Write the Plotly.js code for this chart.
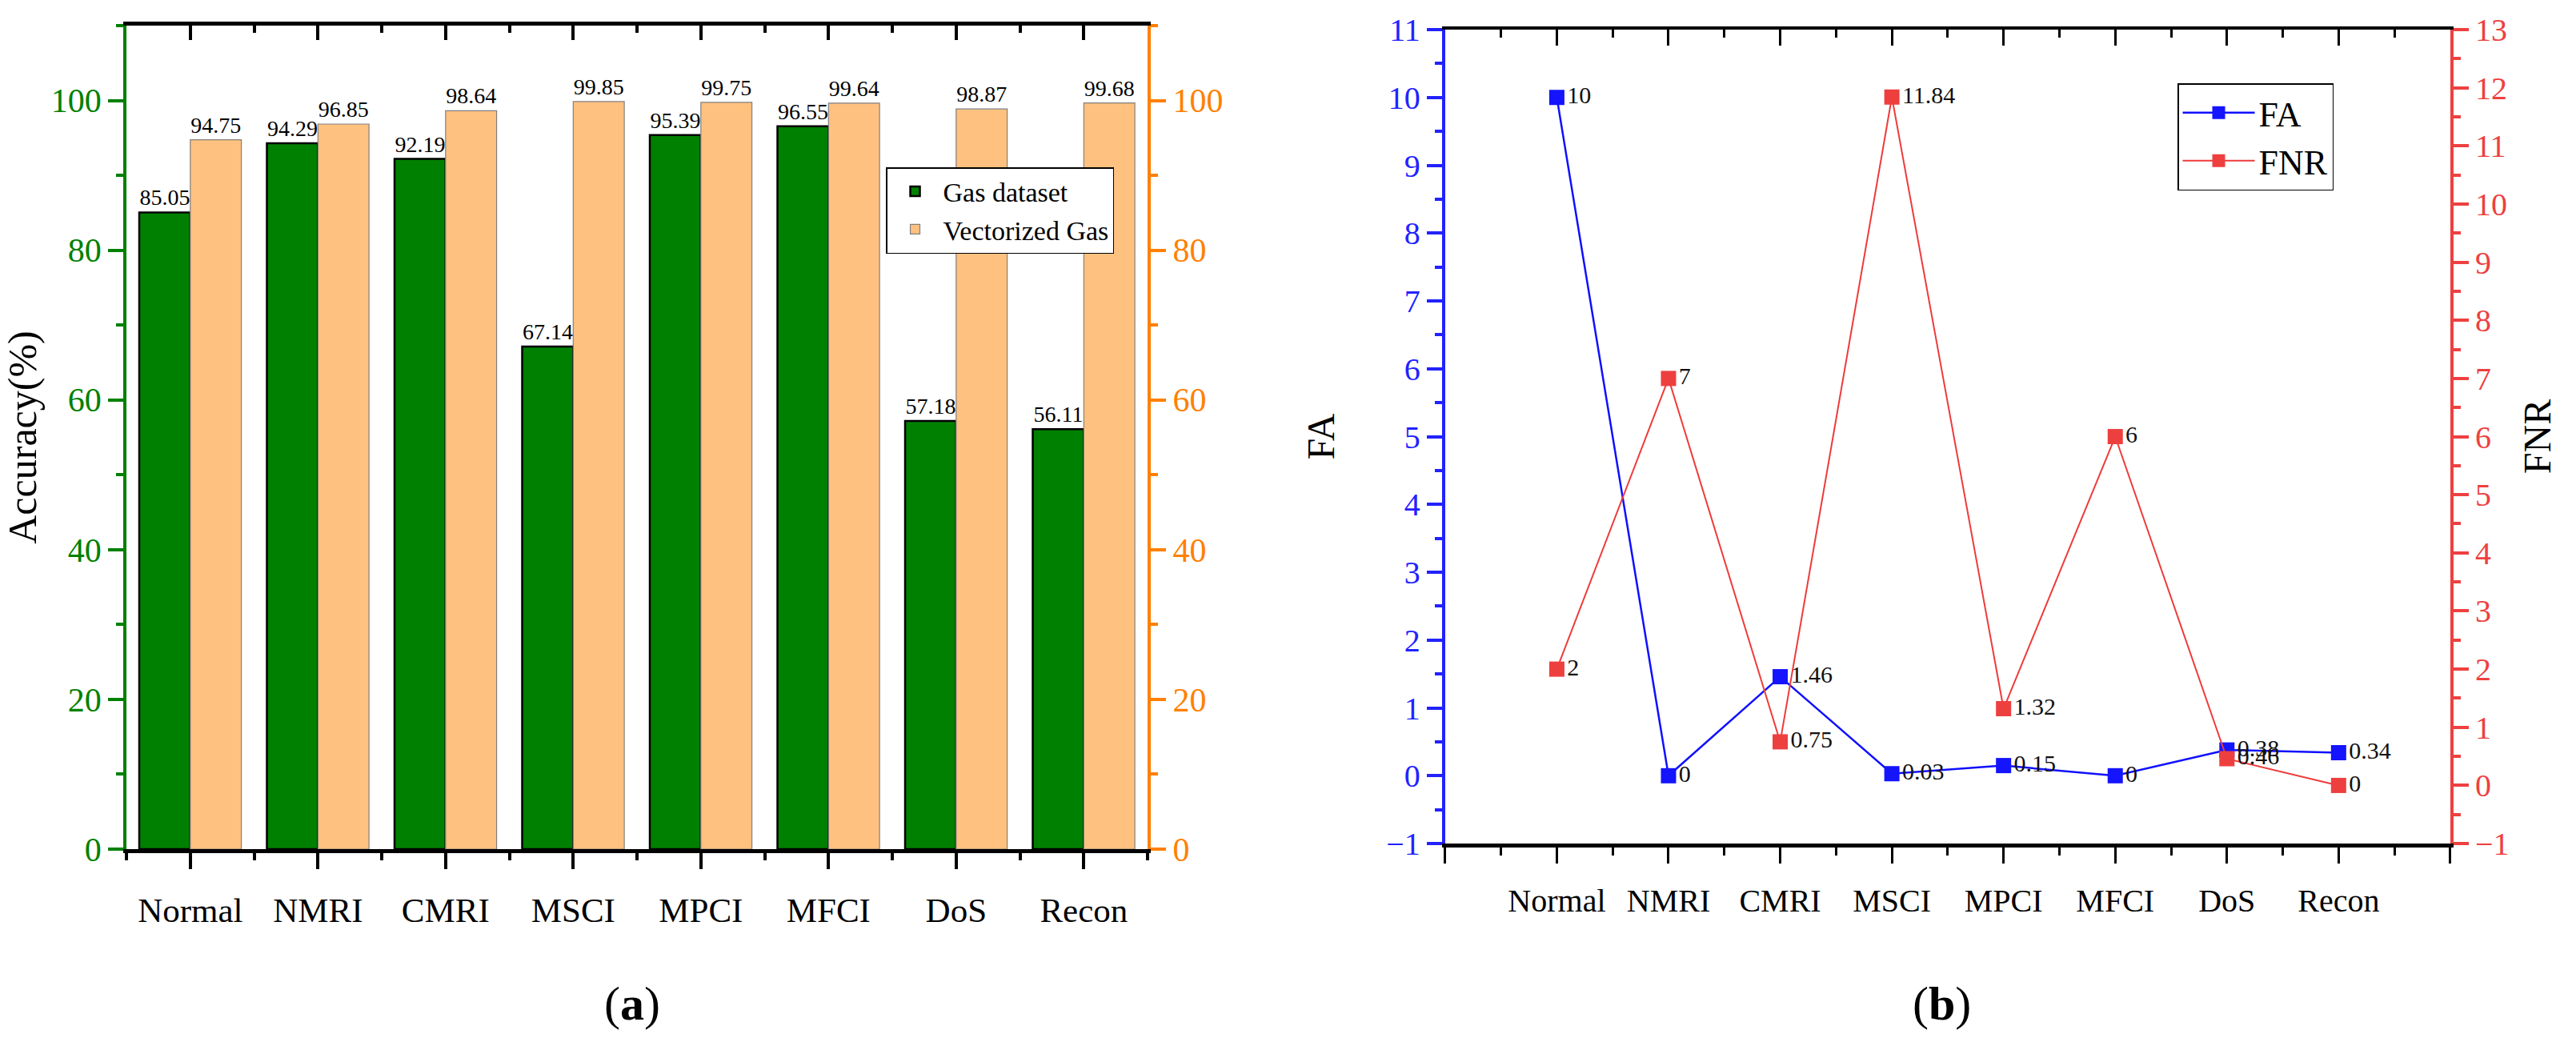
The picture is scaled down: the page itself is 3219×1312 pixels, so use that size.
<!DOCTYPE html>
<html>
<head>
<meta charset="utf-8">
<script src="https://cdn.plot.ly/plotly-3.0.1.min.js"></script>
<style>
  html, body { margin: 0; padding: 0; background: #fff; }
  #chart { width: 3219px; height: 1312px; }
</style>
</head>
<body>
<div id="chart"></div>
<script>
// categories shared by both panels
var categories = ['Normal', 'NMRI', 'CMRI', 'MSCI', 'MPCI', 'MFCI', 'DoS', 'Recon'];

// panel (a) accuracy values
var gasAcc = [85.05, 94.29, 92.19, 67.14, 95.39, 96.55, 57.18, 56.11];
var vecAcc = [94.75, 96.85, 98.64, 99.85, 99.75, 99.64, 98.87, 99.68];

// panel (b) FA / FNR values
var faVals = [10, 0, 1.46, 0.03, 0.15, 0, 0.38, 0.34];
var fnrVals = [2, 7, 0.75, 11.84, 1.32, 6, 0.46, 0];

var SERIF = 'Liberation Serif, Times New Roman, serif';

// positions on the numeric axes come from the category index
var posA = categories.map(function(c, i) { return i; });
var posB = categories.map(function(c, i) { return i + 1; });
var tickB = [0].concat(posB, [categories.length + 1]);
var tickBText = [''].concat(categories, ['']);

var gasTrace = {
    type: 'bar',
    name: 'Gas dataset',
    x: posA,
    y: gasAcc,
    xaxis: 'x',
    yaxis: 'y',
    offsetgroup: 1,
    marker: {color: '#008000', line: {color: '#000000', width: 2.5}},
    text: gasAcc.map(function(v) { return v.toFixed(2); }),
    textposition: 'outside',
    constraintext: 'none',
    cliponaxis: false,
    textfont: {family: SERIF, size: 28, color: '#000'},
    legend: 'legend'
};

var vecTrace = {
    type: 'bar',
    name: 'Vectorized Gas',
    x: posA,
    y: vecAcc,
    xaxis: 'x',
    yaxis: 'y2',
    offsetgroup: 2,
    marker: {color: '#ffc17f', line: {color: '#808080', width: 1.2}},
    text: vecAcc.map(function(v) { return v.toFixed(2); }),
    textposition: 'outside',
    constraintext: 'none',
    cliponaxis: false,
    textfont: {family: SERIF, size: 28, color: '#000'},
    legend: 'legend'
};

var faTrace = {
    type: 'scatter',
    mode: 'lines+markers+text',
    name: 'FA',
    x: posB,
    y: faVals,
    xaxis: 'x3',
    yaxis: 'y3',
    line: {color: '#1010ff', width: 2.5},
    marker: {symbol: 'square', size: 19, color: '#1414ff'},
    text: faVals.map(String),
    textposition: 'middle right',
    cliponaxis: false,
    textfont: {family: SERIF, size: 30, color: '#111'},
    legend: 'legend2'
};

var fnrTrace = {
    type: 'scatter',
    mode: 'lines+markers+text',
    name: 'FNR',
    x: posB,
    y: fnrVals,
    xaxis: 'x3',
    yaxis: 'y4',
    line: {color: '#ee3b3b', width: 2},
    marker: {symbol: 'square', size: 19, color: '#ee3f3f'},
    text: fnrVals.map(String),
    textposition: 'middle right',
    cliponaxis: false,
    textfont: {family: SERIF, size: 30, color: '#111'},
    legend: 'legend2'
};

// invisible traces so the top frame axes get drawn
var topA = {type: 'scatter', mode: 'none', x: posA, y: gasAcc, xaxis: 'x2', yaxis: 'y', showlegend: false, hoverinfo: 'skip'};
var topB = {type: 'scatter', mode: 'none', x: posB, y: faVals, xaxis: 'x4', yaxis: 'y3', showlegend: false, hoverinfo: 'skip'};

var domAx = [0.0491, 0.4455];
var domAy = [0.1913, 0.9756];
var domBx = [0.5610, 0.9512];
var domBy = [0.1966, 0.9718];

function yAxis(dom, range, dtick, color, side, title, fontSize) {
    return {
        domain: dom,
        range: range,
        tickmode: 'linear',
        tick0: 0,
        dtick: dtick,
        side: side,
        ticks: 'outside',
        ticklen: 19,
        tickwidth: 4,
        tickcolor: color,
        minor: {ticks: 'outside', tick0: dtick / 2, dtick: dtick, ticklen: 9, tickwidth: 4, tickcolor: color},
        showline: true,
        linecolor: color,
        linewidth: 4,
        showgrid: false,
        zeroline: false,
        tickfont: {family: SERIF, size: fontSize, color: color},
        title: title
    };
}

var layout = {
    width: 3219,
    height: 1312,
    margin: {l: 0, r: 0, t: 0, b: 0},
    paper_bgcolor: '#ffffff',
    plot_bgcolor: 'rgba(0,0,0,0)',
    barmode: 'group',
    bargap: 0.2,
    bargroupgap: 0,
    font: {family: SERIF, color: '#000'},
    xaxis: {
        domain: domAx,
        anchor: 'y',
        range: [-0.5, categories.length - 0.5],
        tickmode: 'array',
        tickvals: posA,
        ticktext: categories,
        ticks: 'outside',
        ticklen: 20,
        tickwidth: 4,
        tickcolor: '#000',
        minor: {ticks: 'outside', tickmode: 'linear', tick0: -0.5, dtick: 1, ticklen: 9, tickwidth: 4, tickcolor: '#000'},
        showline: true,
        linecolor: '#000',
        linewidth: 5,
        showgrid: false,
        zeroline: false,
        ticklabelstandoff: 14,
        tickfont: {family: SERIF, size: 43, color: '#000'}
    },
    xaxis2: {
        overlaying: 'x',
        anchor: 'y',
        side: 'top',
        range: [-0.5, categories.length - 0.5],
        tickmode: 'array',
        tickvals: posA,
        showticklabels: false,
        ticks: 'inside',
        ticklen: 18,
        tickwidth: 4,
        tickcolor: '#000',
        minor: {ticks: 'inside', tickmode: 'linear', tick0: -0.5, dtick: 1, ticklen: 9, tickwidth: 4, tickcolor: '#000'},
        showline: true,
        linecolor: '#000',
        linewidth: 5,
        showgrid: false,
        zeroline: false
    },
    yaxis: Object.assign(yAxis(domAy, [0, 110], 20, '#008000', 'left',
        {text: 'Accuracy(%)', font: {family: SERIF, size: 50, color: '#000'}, standoff: 22}, 42), {anchor: 'x'}),
    yaxis2: Object.assign(yAxis(domAy, [0, 110], 20, '#ff8000', 'right', {text: ''}, 42), {anchor: 'x', overlaying: 'y'}),
    xaxis3: {
        domain: domBx,
        anchor: 'y3',
        range: [0, categories.length + 1],
        tickmode: 'array',
        tickvals: tickB,
        ticktext: tickBText,
        ticks: 'outside',
        ticklen: 20,
        tickwidth: 3,
        tickcolor: '#000',
        minor: {ticks: 'outside', tickmode: 'linear', tick0: 0.5, dtick: 1, ticklen: 10, tickwidth: 3, tickcolor: '#000'},
        showline: true,
        linecolor: '#000',
        linewidth: 5,
        showgrid: false,
        zeroline: false,
        ticklabelstandoff: 12,
        tickfont: {family: SERIF, size: 40, color: '#000'}
    },
    xaxis4: {
        overlaying: 'x3',
        anchor: 'y3',
        side: 'top',
        range: [0, categories.length + 1],
        tickmode: 'array',
        tickvals: tickB,
        showticklabels: false,
        ticks: 'inside',
        ticklen: 20,
        tickwidth: 3,
        tickcolor: '#000',
        minor: {ticks: 'inside', tickmode: 'linear', tick0: 0.5, dtick: 1, ticklen: 10, tickwidth: 3, tickcolor: '#000'},
        showline: true,
        linecolor: '#000',
        linewidth: 4,
        showgrid: false,
        zeroline: false
    },
    yaxis3: Object.assign(yAxis(domBy, [-1, 11], 1, '#2222ff', 'left',
        {text: 'FA', font: {family: SERIF, size: 48, color: '#000'}, standoff: 50}, 40), {anchor: 'x3'}),
    yaxis4: Object.assign(yAxis(domBy, [-1, 13], 1, '#ee4040', 'right',
        {text: 'FNR', font: {family: SERIF, size: 48, color: '#000'}, standoff: 20}, 40), {anchor: 'x3', overlaying: 'y3'}),
    legend: {
        x: 0.3439, y: 0.8407, xanchor: 'left', yanchor: 'top',
        bgcolor: '#ffffff', bordercolor: '#000', borderwidth: 1.5,
        font: {family: SERIF, size: 34, color: '#000'},
        itemwidth: 60, tracegroupgap: 4
    },
    legend2: {
        x: 0.8453, y: 0.9207, xanchor: 'left', yanchor: 'top',
        bgcolor: '#ffffff', bordercolor: '#000', borderwidth: 1.5,
        font: {family: SERIF, size: 44, color: '#000'},
        itemwidth: 90
    },
    annotations: [
        {text: '(<b>a</b>)', xref: 'paper', yref: 'paper', x: 790 / 3219, y: 0.044,
         xanchor: 'center', yanchor: 'middle', showarrow: false, font: {family: SERIF, size: 60, color: '#000'}},
        {text: '(<b>b</b>)', xref: 'paper', yref: 'paper', x: 2426 / 3219, y: 0.044,
         xanchor: 'center', yanchor: 'middle', showarrow: false, font: {family: SERIF, size: 60, color: '#000'}}
    ]
};

Plotly.newPlot('chart', [gasTrace, vecTrace, faTrace, fnrTrace, topA, topB], layout, {displayModeBar: false, staticPlot: true});
</script>
</body>
</html>
